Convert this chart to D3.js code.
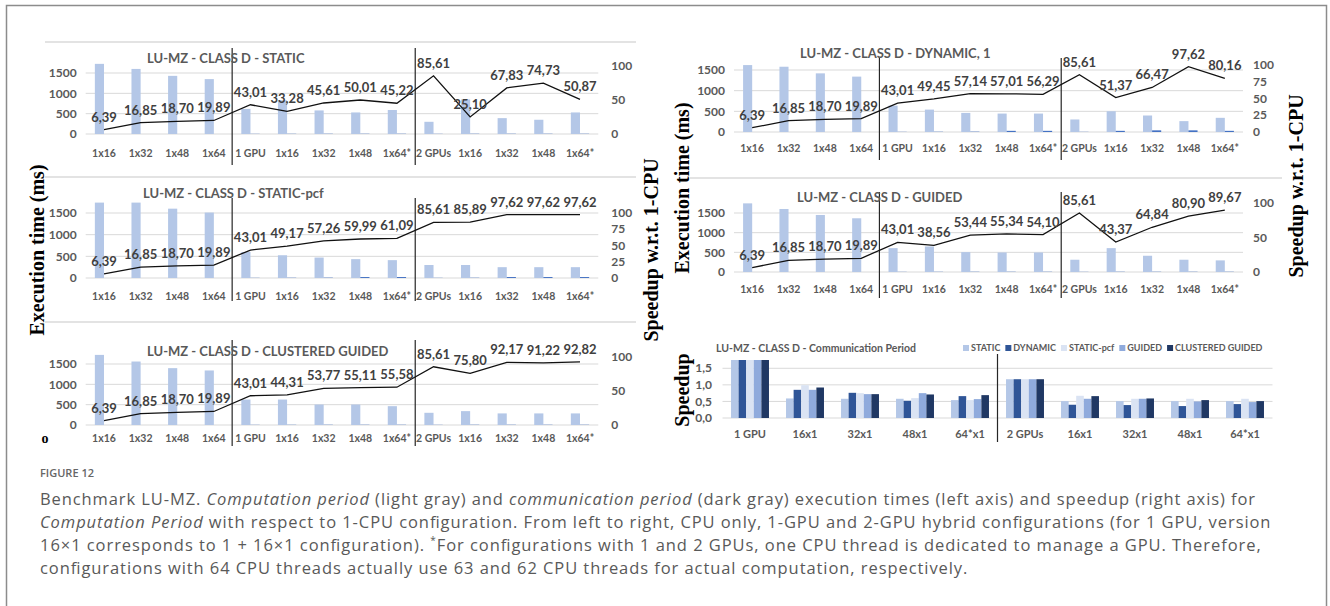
<!DOCTYPE html>
<html>
<head>
<meta charset="utf-8">
<script src="https://cdn.jsdelivr.net/npm/d3@7"></script>
<style>
  body { margin: 0; background: #fff; }
  svg text { font-family: Lato, 'Open Sans', sans-serif; }
</style>
</head>
<body>
<svg id="fig" width="1330" height="606"></svg>
<script>
// categories shared by the five schedule charts
const categories = ['1x16', '1x32', '1x48', '1x64', '1 GPU', '1x16', '1x32', '1x48', '1x64*', '2 GPUs', '1x16', '1x32', '1x48', '1x64*'];

// computation period (ms), communication period (ms), speedup w.r.t. 1-CPU
const staticCompute = [1725, 1600, 1430, 1350, 617, 830, 580, 530, 590, 300, 850, 390, 350, 530];
const staticComm = [0, 0, 0, 0, 4, 5, 6, 6, 6, 4, 6, 6, 6, 6];
const staticSpeedup = [6.39, 16.85, 18.70, 19.89, 43.01, 33.28, 45.61, 50.01, 45.22, 85.61, 25.10, 67.83, 74.73, 50.87];

const pcfCompute = [1740, 1740, 1600, 1510, 600, 525, 472, 435, 412, 300, 300, 250, 250, 250];
const pcfComm = [0, 0, 0, 0, 4, 6, 8, 22, 22, 4, 6, 22, 22, 22];
const pcfSpeedup = [6.39, 16.85, 18.70, 19.89, 43.01, 49.17, 57.26, 59.99, 61.09, 85.61, 85.89, 97.62, 97.62, 97.62];

const clusteredCompute = [1724, 1561, 1398, 1341, 626, 626, 504, 504, 463, 300, 341, 285, 285, 285];
const clusteredComm = [0, 0, 0, 0, 4, 5, 6, 6, 6, 4, 6, 6, 6, 6];
const clusteredSpeedup = [6.39, 16.85, 18.70, 19.89, 43.01, 44.31, 53.77, 55.11, 55.58, 85.61, 75.80, 92.17, 91.22, 92.82];

const dynamicCompute = [1619, 1579, 1419, 1340, 638, 542, 462, 446, 446, 303, 502, 399, 263, 343];
const dynamicComm = [0, 0, 0, 0, 4, 6, 8, 28, 28, 4, 28, 40, 40, 28];
const dynamicSpeedup = [6.39, 16.85, 18.70, 19.89, 43.01, 49.45, 57.14, 57.01, 56.29, 85.61, 51.37, 66.47, 97.62, 80.16];

const guidedCompute = [1745, 1602, 1450, 1366, 607, 649, 506, 497, 497, 312, 607, 413, 312, 295];
const guidedComm = [0, 0, 0, 0, 4, 5, 6, 6, 6, 4, 6, 6, 6, 6];
const guidedSpeedup = [6.39, 16.85, 18.70, 19.89, 43.01, 38.56, 53.44, 55.34, 54.10, 85.61, 43.37, 64.84, 80.90, 89.67];

// communication period speedup chart
const commCategories = ['1 GPU', '16x1', '32x1', '48x1', '64*x1', '2 GPUs', '16x1', '32x1', '48x1', '64*x1'];
const commSeries = ['STATIC', 'DYNAMIC', 'STATIC-pcf', 'GUIDED', 'CLUSTERED GUIDED'];
const commStatic = [1.75, 0.59, 0.58, 0.58, 0.54, 1.17, 0.51, 0.51, 0.51, 0.51];
const commDynamic = [1.75, 0.85, 0.76, 0.52, 0.66, 1.17, 0.40, 0.39, 0.36, 0.42];
const commStaticPcf = [1.75, 0.99, 0.75, 0.60, 0.54, 1.17, 0.67, 0.58, 0.58, 0.58];
const commGuided = [1.75, 0.85, 0.72, 0.75, 0.57, 1.17, 0.58, 0.58, 0.50, 0.48];
const commClustered = [1.75, 0.92, 0.72, 0.71, 0.69, 1.17, 0.66, 0.59, 0.54, 0.51];

const locale = d3.formatLocale({ decimal: ',', thousands: '.', grouping: [3], currency: ['', ''] });
const fmt2 = locale.format('.2f');
const fmt1 = locale.format('.1f');

const svg = d3.select('#fig');

// outer frame
svg.append('rect')
    .attr('x', 6.5).attr('y', 5.5)
    .attr('width', 1320).attr('height', 640)
    .attr('fill', 'none')
    .attr('stroke', '#8c8c8c')
    .attr('stroke-width', 1.5);

// thin gray rules between the stacked charts
const rules = [[45, 636, 42], [45, 636, 177], [45, 636, 322], [690, 1282, 178]];
svg.selectAll('line.rule')
    .data(rules)
    .enter()
    .append('line')
    .attr('class', 'rule')
    .attr('x1', d => d[0]).attr('x2', d => d[1])
    .attr('y1', d => d[2]).attr('y2', d => d[2])
    .attr('stroke', '#c8c8c8')
    .attr('stroke-width', 1.2);

const leftX = [85.7, 598.3];
const rightX = [734, 1243];

const panels = [
    { title: 'LU-MZ - CLASS D - STATIC', compute: staticCompute, comm: staticComm, speedup: staticSpeedup,
      xr: leftX, yBase: 134, y1500: 73, y100: 66, rTicks: [0, 50, 100], rGap: 13, catY: 153, titleX: 147, titleY: 58, sep: [48, 165] },
    { title: 'LU-MZ - CLASS D - STATIC-pcf', compute: pcfCompute, comm: pcfComm, speedup: pcfSpeedup,
      xr: leftX, yBase: 278, y1500: 213, y100: 213, rTicks: [0, 25, 50, 75, 100], rGap: 13, catY: 296, titleX: 143, titleY: 193, sep: [198, 301] },
    { title: 'LU-MZ - CLASS D - CLUSTERED GUIDED', compute: clusteredCompute, comm: clusteredComm, speedup: clusteredSpeedup,
      xr: leftX, yBase: 425, y1500: 364, y100: 357, rTicks: [0, 50, 100], rGap: 13, catY: 438, titleX: 147, titleY: 351, sep: [340, 446] },
    { title: 'LU-MZ - CLASS D - DYNAMIC, 1', compute: dynamicCompute, comm: dynamicComm, speedup: dynamicSpeedup,
      xr: rightX, yBase: 132, y1500: 70, y100: 65, rTicks: [0, 25, 50, 75, 100], rGap: 10, catY: 148, titleX: 800, titleY: 53, sep: [58, 160] },
    { title: 'LU-MZ - CLASS D - GUIDED', compute: guidedCompute, comm: guidedComm, speedup: guidedSpeedup,
      xr: rightX, yBase: 272, y1500: 213, y100: 203, rTicks: [0, 50, 100], rGap: 10, catY: 289, titleX: 797, titleY: 197, sep: [192, 298] }
];

function drawPanel(p) {
    const g = svg.append('g');
    const x = d3.scaleBand()
        .domain(d3.range(categories.length))
        .range(p.xr)
        .paddingInner(0.5)
        .paddingOuter(0.25);
    const xs = d3.scaleBand().domain(['compute', 'comm']).range([0, x.bandwidth()]);
    const yL = d3.scaleLinear().domain([0, 1500]).range([p.yBase, p.y1500]);
    const yR = d3.scaleLinear().domain([0, 100]).range([p.yBase, p.y100]);
    const cx = i => x(i) + x.bandwidth() / 2;

    // gridlines
    g.selectAll('line.grid')
        .data(yL.ticks(3))
        .enter()
        .append('line')
        .attr('x1', p.xr[0]).attr('x2', p.xr[1])
        .attr('y1', d => yL(d)).attr('y2', d => yL(d))
        .attr('stroke', '#d9d9d9')
        .attr('stroke-width', 1);

    // left ticks
    g.selectAll('text.lt')
        .data(yL.ticks(3))
        .enter()
        .append('text')
        .attr('x', p.xr[0] - 9)
        .attr('y', d => yL(d))
        .attr('dy', '0.35em')
        .attr('text-anchor', 'end')
        .attr('font-size', 12)
        .attr('font-weight', 'bold')
        .attr('fill', '#595959')
        .text(d => d);

    // right ticks
    g.selectAll('text.rt')
        .data(p.rTicks)
        .enter()
        .append('text')
        .attr('x', p.xr[1] + p.rGap)
        .attr('y', d => yR(d))
        .attr('dy', '0.35em')
        .attr('font-size', 12)
        .attr('font-weight', 'bold')
        .attr('fill', '#595959')
        .text(d => d);

    // computation bars
    g.selectAll('rect.cp')
        .data(p.compute)
        .enter()
        .append('rect')
        .attr('x', (d, i) => x(i) + xs('compute'))
        .attr('width', xs.bandwidth())
        .attr('y', d => yL(d))
        .attr('height', d => yL(0) - yL(d))
        .attr('fill', '#b4c7e7');

    // communication bars
    g.selectAll('rect.cm')
        .data(p.comm)
        .enter()
        .append('rect')
        .attr('x', (d, i) => x(i) + xs('comm'))
        .attr('width', xs.bandwidth())
        .attr('y', d => yL(d))
        .attr('height', d => yL(0) - yL(d))
        .attr('fill', '#4472c4');

    // category labels
    g.selectAll('text.cat')
        .data(categories)
        .enter()
        .append('text')
        .attr('x', (d, i) => cx(i))
        .attr('y', p.catY)
        .attr('dy', '0.35em')
        .attr('text-anchor', 'middle')
        .attr('font-size', 10.5)
        .attr('font-weight', 'bold')
        .attr('fill', '#595959')
        .text(d => d);

    // separators between CPU only, 1 GPU and 2 GPUs groups
    [3, 8].forEach(i => {
        const sx = (cx(i) + cx(i + 1)) / 2;
        g.append('line')
            .attr('x1', sx).attr('x2', sx)
            .attr('y1', p.sep[0]).attr('y2', p.sep[1])
            .attr('stroke', '#262626')
            .attr('stroke-width', 1.2);
    });

    // speedup line
    const line = d3.line()
        .x((d, i) => cx(i))
        .y(d => yR(d));
    g.append('path')
        .datum(p.speedup)
        .attr('d', line)
        .attr('fill', 'none')
        .attr('stroke', '#111')
        .attr('stroke-width', 1.3);

    g.selectAll('text.val')
        .data(p.speedup)
        .enter()
        .append('text')
        .attr('x', (d, i) => cx(i))
        .attr('y', d => yR(d) - 8)
        .attr('text-anchor', 'middle')
        .attr('font-size', 13)
        .attr('font-weight', 'bold')
        .attr('fill', '#404040')
        .text(d => fmt2(d));

    g.append('text')
        .attr('x', p.titleX)
        .attr('y', p.titleY)
        .attr('dy', '0.35em')
        .attr('font-size', 13)
        .attr('font-weight', 'bold')
        .attr('fill', '#595959')
        .text(p.title);
}

panels.forEach(drawPanel);

// communication period chart
function drawComm() {
    const g = svg.append('g');
    const series = [commStatic, commDynamic, commStaticPcf, commGuided, commClustered];
    const colors = ['#b4c7e7', '#2f5597', '#dae3f3', '#8faadc', '#203864'];
    const x = d3.scaleBand()
        .domain(d3.range(commCategories.length))
        .range([722.5, 1272.5])
        .paddingInner(0.31)
        .paddingOuter(0.155);
    const xs = d3.scaleBand().domain(d3.range(series.length)).range([0, x.bandwidth()]);
    const y = d3.scaleLinear().domain([0, 1.75]).range([418, 360]);
    const ticks = [0, 0.5, 1, 1.5];

    g.selectAll('line.grid')
        .data(ticks)
        .enter()
        .append('line')
        .attr('x1', 722.5).attr('x2', 1272.5)
        .attr('y1', d => y(d)).attr('y2', d => y(d))
        .attr('stroke', '#d9d9d9');

    g.selectAll('text.tick')
        .data(ticks)
        .enter()
        .append('text')
        .attr('x', 712)
        .attr('y', d => y(d))
        .attr('dy', '0.35em')
        .attr('text-anchor', 'end')
        .attr('font-size', 12)
        .attr('font-weight', 'bold')
        .attr('fill', '#595959')
        .text(d => fmt1(d));

    series.forEach((vals, s) => {
        g.selectAll('rect.s' + s)
            .data(vals)
            .enter()
            .append('rect')
            .attr('x', (d, i) => x(i) + xs(s))
            .attr('width', xs.bandwidth())
            .attr('y', d => y(d))
            .attr('height', d => y(0) - y(d))
            .attr('fill', colors[s]);
    });

    g.selectAll('text.cat')
        .data(commCategories)
        .enter()
        .append('text')
        .attr('x', (d, i) => x(i) + x.bandwidth() / 2)
        .attr('y', 434)
        .attr('dy', '0.35em')
        .attr('text-anchor', 'middle')
        .attr('font-size', 11)
        .attr('font-weight', 'bold')
        .attr('fill', '#595959')
        .text(d => d);

    const sx = (x(4) + x(5) + x.bandwidth()) / 2;
    g.append('line')
        .attr('x1', sx).attr('x2', sx)
        .attr('y1', 354).attr('y2', 442)
        .attr('stroke', '#262626')
        .attr('stroke-width', 1.2);

    g.append('text')
        .attr('x', 716).attr('y', 348)
        .attr('dy', '0.35em')
        .attr('font-size', 10.5)
        .attr('font-weight', 'bold')
        .attr('fill', '#595959')
        .text('LU-MZ  - CLASS D - Communication Period');

    // legend, laid out from left to right
    let lx = 963;
    commSeries.forEach((name, s) => {
        g.append('rect')
            .attr('x', lx).attr('y', 345)
            .attr('width', 6).attr('height', 6)
            .attr('fill', colors[s]);
        const t = g.append('text')
            .attr('x', lx + 8).attr('y', 348)
            .attr('dy', '0.35em')
            .attr('font-size', 9)
            .attr('font-weight', 'bold')
            .attr('fill', '#595959')
            .text(name);
        lx += 8 + t.node().getComputedTextLength() + 5;
    });
}
drawComm();

// big rotated axis titles
const axisTitles = [
    ['Execution time (ms)', 37, 250],
    ['Speedup w.r.t. 1-CPU', 651, 250],
    ['Execution time (ms)', 682, 188],
    ['Speedup w.r.t. 1-CPU', 1296, 186],
    ['Speedup', 682, 390]
];
svg.selectAll('text.axt')
    .data(axisTitles)
    .enter()
    .append('text')
    .attr('transform', d => `translate(${d[1]},${d[2]}) rotate(-90)`)
    .attr('text-anchor', 'middle')
    .attr('dy', '0.35em')
    .style('font-family', "'Liberation Serif', 'DejaVu Serif', serif")
    .attr('font-size', 20)
    .attr('font-weight', 'bold')
    .attr('fill', '#000')
    .text(d => d[0]);

svg.append('text')
    .attr('x', 45).attr('y', 438)
    .attr('dy', '0.35em')
    .attr('text-anchor', 'middle')
    .style('font-family', "'Liberation Serif', serif")
    .attr('font-size', 14)
    .attr('font-weight', 'bold')
    .text('o');

// caption
const cap = svg.append('g');
cap.append('text')
    .attr('x', 40).attr('y', 477)
    .style('font-family', "'Open Sans', sans-serif")
    .attr('font-size', 11)
    .attr('font-weight', 600)
    .attr('fill', '#666')
    .text('FIGURE 12');

const captionLines = [
    [['Benchmark LU-MZ. ', 'n'], ['Computation period', 'i'], [' (light gray) and ', 'n'], ['communication period', 'i'], [' (dark gray) execution times (left axis) and speedup (right axis) for', 'n']],
    [['Computation Period', 'i'], [' with respect to 1-CPU configuration. From left to right, CPU only, 1-GPU and 2-GPU hybrid configurations (for 1 GPU, version', 'n']],
    [['16\u00d71 corresponds to 1 + 16\u00d71 configuration). ', 'n'], ['*', 's'], ['For configurations with 1 and 2 GPUs, one CPU thread is dedicated to manage a GPU. Therefore,', 'n']],
    [['configurations with 64 CPU threads actually use 63 and 62 CPU threads for actual computation, respectively.', 'n']]
];
const capTexts = captionLines.map((parts, li) => {
    const t = cap.append('text')
        .attr('x', 40)
        .attr('y', 505 + li * 23)
        .style('font-family', "'Open Sans', sans-serif")
        .attr('font-size', 16.5)
        .attr('fill', '#595959');
    parts.forEach(([s, k]) => {
        const ts = t.append('tspan').text(s);
        if (k === 'i') ts.attr('font-style', 'italic');
        if (k === 's') ts.attr('baseline-shift', 'super').attr('font-size', 10);
    });
    return t;
});
// the original caption face is wider than Open Sans: stretch every line by the same factor
const k = 1215 / capTexts[0].node().getComputedTextLength();
capTexts.forEach(t => {
    const w = t.node().getComputedTextLength();
    t.attr('textLength', w * k).attr('lengthAdjust', 'spacing');
});
</script>
</body>
</html>
